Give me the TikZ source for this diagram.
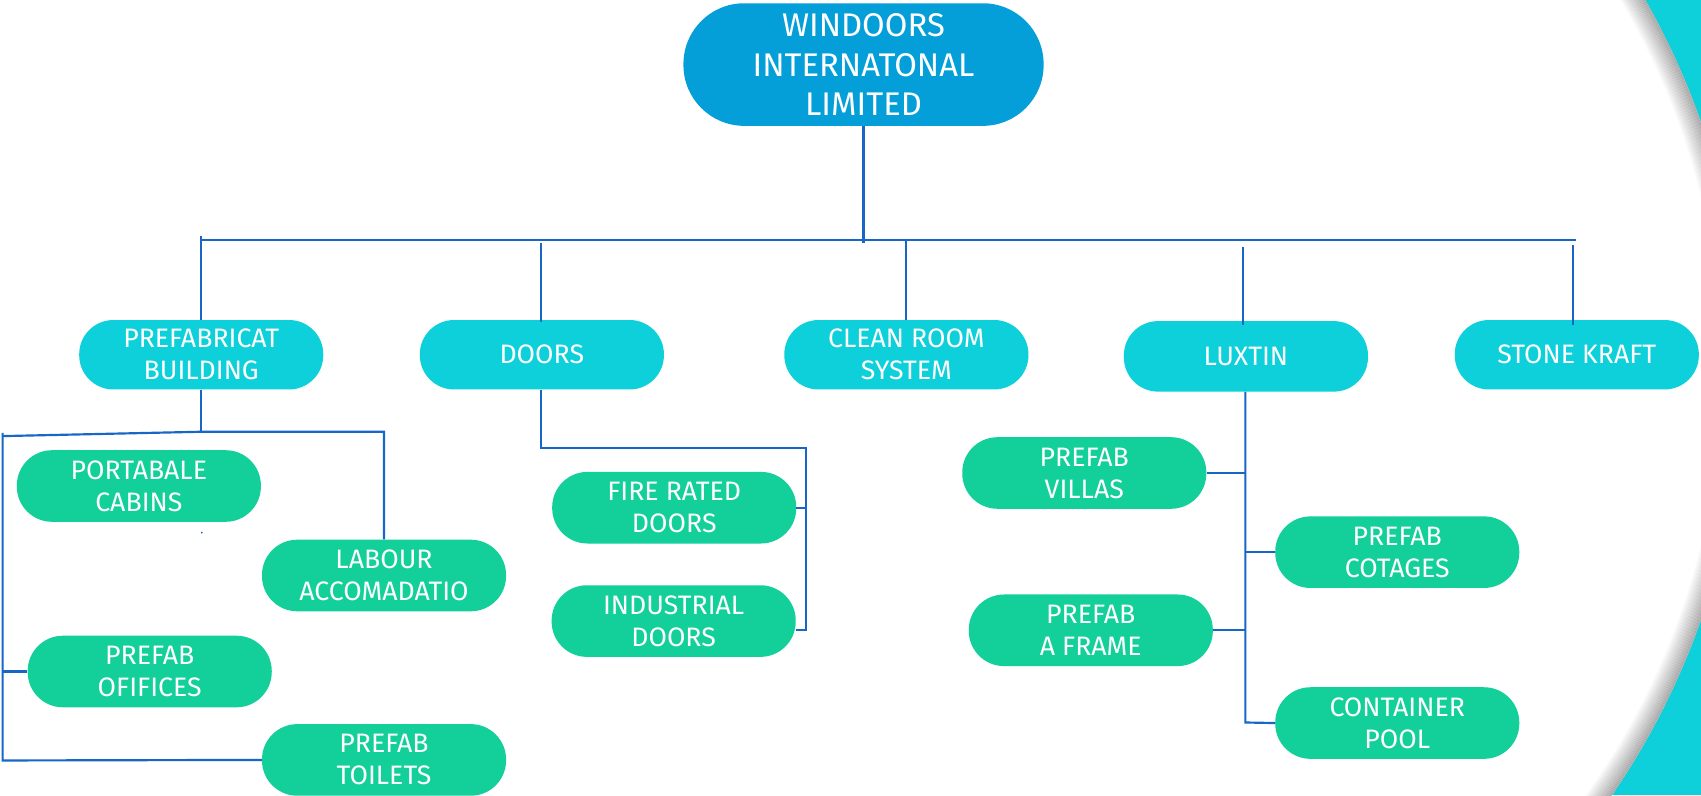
\documentclass[tikz,border=0pt]{standalone}
\usepackage{fontspec}
\setmainfont{Fira Sans}
\definecolor{rootblue}{RGB}{4,159,217}
\definecolor{cyanL}{RGB}{14,208,219}
\definecolor{greenL}{RGB}{19,207,154}
\definecolor{lineblue}{RGB}{24,102,198}
\tikzset{
  lvl/.style={rectangle, rounded corners=31.5pt, fill=cyanL, text=white,
    minimum width=225pt, minimum height=64pt, inner sep=0pt, align=center,
    font=\fontsize{24.6}{29.5}\selectfont},
  leaf/.style={lvl, fill=greenL, minimum height=66pt, rounded corners=32.5pt},
  rootbox/.style={rectangle, rounded corners=56pt, fill=rootblue, text=white,
    minimum width=332pt, minimum height=113pt, inner sep=0pt, align=center,
    font=\fontsize{30.2}{36}\selectfont},
  conn/.style={draw=lineblue, line width=2pt}
}
\begin{document}
\begin{tikzpicture}[x=1pt,y=-1pt]
\useasboundingbox (0,0) rectangle (1568,733);
\fill[white] (0,0) rectangle (1568,733);
% right decoration
\begin{scope}
  \clip (1380,0) rectangle (1568,733);
  \fill[cyanL] (1380,0) rectangle (1568,733);
  \fill[white] (915,342) circle (692pt);
  \foreach \i [evaluate=\i as \op using {0.26*(1-\i/20)},
               evaluate=\i as \rr using {691.5-\i}] in {0,...,19}
    \draw[black, line width=1.2pt, draw opacity=\op] (915,342) circle (\rr pt);
\end{scope}

% nodes
\node[rootbox] (root) at (796,59.5) {WINDOORS\\INTERNATONAL\\LIMITED};

\node[lvl] (pb) at (185.5,327) {PREFABRICAT\\BUILDING};
\node[lvl] (doors) at (499.5,327) {DOORS};
\node[lvl] (clean) at (835.5,327) {CLEAN ROOM\\SYSTEM};
\node[lvl, minimum height=65pt] (lux) at (1148.5,328.5) {LUXTIN};
\node[lvl] (stone) at (1453.5,327) {STONE KRAFT};

\node[leaf] (portable) at (128,448) {PORTABALE\\CABINS};
\node[leaf] (labour) at (354,530.5) {LABOUR\\ACCOMADATIO};
\node[leaf] (offices) at (138,619) {PREFAB\\OFIFICES};
\node[leaf] (toilets) at (354,700.5) {PREFAB\\TOILETS};

\node[leaf] (fire) at (621.5,468) {FIRE RATED\\DOORS};
\node[leaf] (indus) at (621,572.5) {INDUSTRIAL\\DOORS};

\node[leaf] (villas) at (999.5,436) {PREFAB\\VILLAS};
\node[leaf] (cot) at (1288,509) {PREFAB\\COTAGES};
\node[leaf] (aframe) at (1005.5,581) {PREFAB\\A FRAME};
\node[leaf] (cont) at (1288,666.5) {CONTAINER\\POOL};

% top level connectors
\coordinate (busL) at (185,221);
\coordinate (busR) at (1453,221);
\coordinate (rootEnd) at (796,224);
\draw[conn] (busL) -- (busR);
\draw[conn] (root.south) -- (rootEnd);
\coordinate (pbTop) at (185,218);
\coordinate (doorsTop) at (499,224);
\coordinate (cleanTop) at (835,221);
\coordinate (luxTop) at (1146,228);
\coordinate (stoneTop) at (1450,226);
\draw[conn] (pbTop) -- (pb.north -| pbTop);
\draw[conn] (doorsTop) -- ([yshift=-2pt]doors.north -| doorsTop);
\draw[conn] (cleanTop) -- (clean.north -| cleanTop);
\draw[conn] (luxTop) -- ([yshift=-4pt]lux.north -| luxTop);
\draw[conn] (stoneTop) -- ([yshift=-5pt]stone.north -| stoneTop);

% prefab building children
\coordinate (pbJ) at (185,398);
\coordinate (pbL) at (2.4,402);
\coordinate (pbR) at (354,398);
\coordinate (pbB) at (2.4,701);
\draw[conn] (pb.south -| pbJ) -- (pbJ);
\draw[conn] (pbL) -- (pbJ) -- (pbR) -- (labour.north);
\draw[conn] (2.4,399) -- (pbB) -- (toilets.west);
\draw[conn] (offices.west) -- (offices.west -| pbL);
\fill[lineblue] (186,491) circle (0.9pt);

% doors children
\coordinate (dJ) at (499,413);
\coordinate (dR) at (743,413);
\coordinate (dB) at (743,581);
\draw[conn] (doors.south -| dJ) -- (dJ) -- (dR) -- (dB) -- (indus.east |- dB);
\draw[conn] (fire.east) -- (fire.east -| dR);

% luxtin children
\coordinate (lB) at (1148,666);
\draw[conn] (lux.south -| lB) -- (lB) -- (cont.west);
\draw[conn] (villas.east) -- (villas.east -| lB);
\draw[conn] (cot.west) -- (cot.west -| lB);
\draw[conn] (aframe.east) -- (aframe.east -| lB);
\end{tikzpicture}
\end{document}
